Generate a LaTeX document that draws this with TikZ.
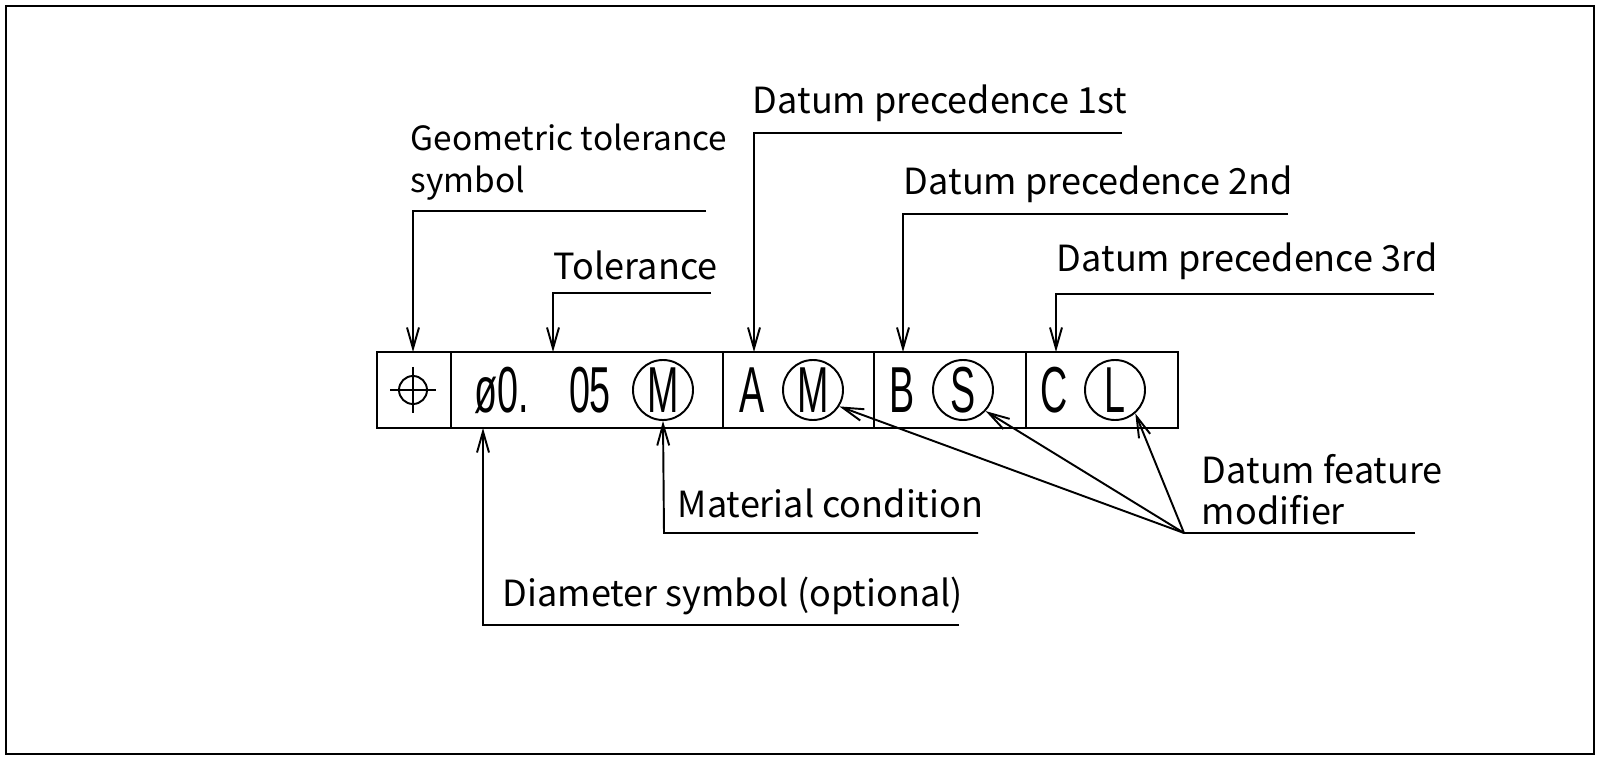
\documentclass[tikz,border=0pt]{standalone}
\usepackage{fontspec}
\setmainfont{Noto Sans CJK JP}
\newfontfamily\framefont{Liberation Sans}
\usetikzlibrary{arrows.meta}
\begin{document}
\begin{tikzpicture}[x=0.02cm,y=-0.02cm,line width=1.1pt,
  lbl/.style={anchor=west,inner sep=0pt,font=\fontsize{20.5}{23.5}\selectfont,align=left},
  ftxt/.style={inner sep=0pt,font=\framefont\fontsize{37}{37}\selectfont,xscale=0.58},
  circ/.style={circle,draw,minimum size=60*0.02cm,inner sep=0pt},
  arr/.style={-{Straight Barb[length=0.42cm,width=0.24cm]}}]
\useasboundingbox (0,0) rectangle (1600,760);
\draw[line width=1.3pt] (6,6) rectangle (1594,754);
% frame
\draw[line width=1.4pt] (377,352) rectangle (1178,428);
\foreach \x in {451,723,874,1026} \draw[line width=1.4pt] (\x,352) -- (\x,428);
% position symbol
\draw (413,390) circle (14*0.02cm);
\draw (390,390) -- (436,390) (413,367) -- (413,413);
\node[ftxt] (tol) at (502,390) {ø0.};
\node[ftxt] (tol2) at (590,390) {05};
\node[circ] (m1) at (663,390) {};
\node[ftxt] at (663,390) {M};
\node[ftxt] (a) at (752,390) {A};
\node[circ] (m2) at (813,390) {};
\node[ftxt] at (813,390) {M};
\node[ftxt] (b) at (902,390) {B};
\node[circ] (s) at (963,390) {};
\node[ftxt] at (963,390) {S};
\node[ftxt] (c) at (1054,390) {C};
\node[circ] (l) at (1115,390) {};
\node[ftxt] at (1115,390) {L};
% upper leaders
\coordinate (g1) at (706,211); \coordinate (g2) at (413,211); \coordinate (g3) at (413,352);
\node[lbl,anchor=south west,font=\fontsize{19}{23.5}\selectfont] (gl) at (410,201) {Geometric tolerance\\symbol};
\draw[arr] (g1) -- (g2) -- (g3);
\coordinate (t1) at (711,293); \coordinate (t2) at (553,293); \coordinate (t3) at (553,352);
\node[lbl] (tl) at (553,265) {Tolerance};
\draw[arr] (t1) -- (t2) -- (t3);
\coordinate (d11) at (1122,133); \coordinate (d12) at (754,133); \coordinate (d13) at (754,352);
\node[lbl] (d1l) at (752,103) {Datum precedence 1st};
\draw[arr] (d11) -- (d12) -- (d13);
\coordinate (d21) at (1288,214); \coordinate (d22) at (903,214); \coordinate (d23) at (903,352);
\node[lbl] (d2l) at (903,184) {Datum precedence 2nd};
\draw[arr] (d21) -- (d22) -- (d23);
\coordinate (d31) at (1434,294); \coordinate (d32) at (1056,294); \coordinate (d33) at (1056,352);
\node[lbl] (d3l) at (1056,261) {Datum precedence 3rd};
\draw[arr] (d31) -- (d32) -- (d33);
% lower leaders
\coordinate (di1) at (959,625); \coordinate (di2) at (483,625); \coordinate (di3) at (483,428);
\node[lbl] (dil) at (502,596) {Diameter symbol (optional)};
\draw[arr] (di1) -- (di2) -- (di3);
\coordinate (mc1) at (978,533); \coordinate (mc2) at (664,533);
\node[lbl] (mcl) at (677,503) {Material condition};
\draw[arr] (mc1) -- (mc2) -- (m1.south);
\coordinate (j) at (1184,533); \coordinate (j2) at (1415,533);
\node[lbl,anchor=south west] (dfl) at (1201,526) {Datum feature\\modifier};
\draw (j2) -- (j);
\draw[arr] (j) -- (m2.-32);
\draw[arr] (j) -- (s.-43);
\draw[arr] (j) -- (l.-49);
\end{tikzpicture}
\end{document}
